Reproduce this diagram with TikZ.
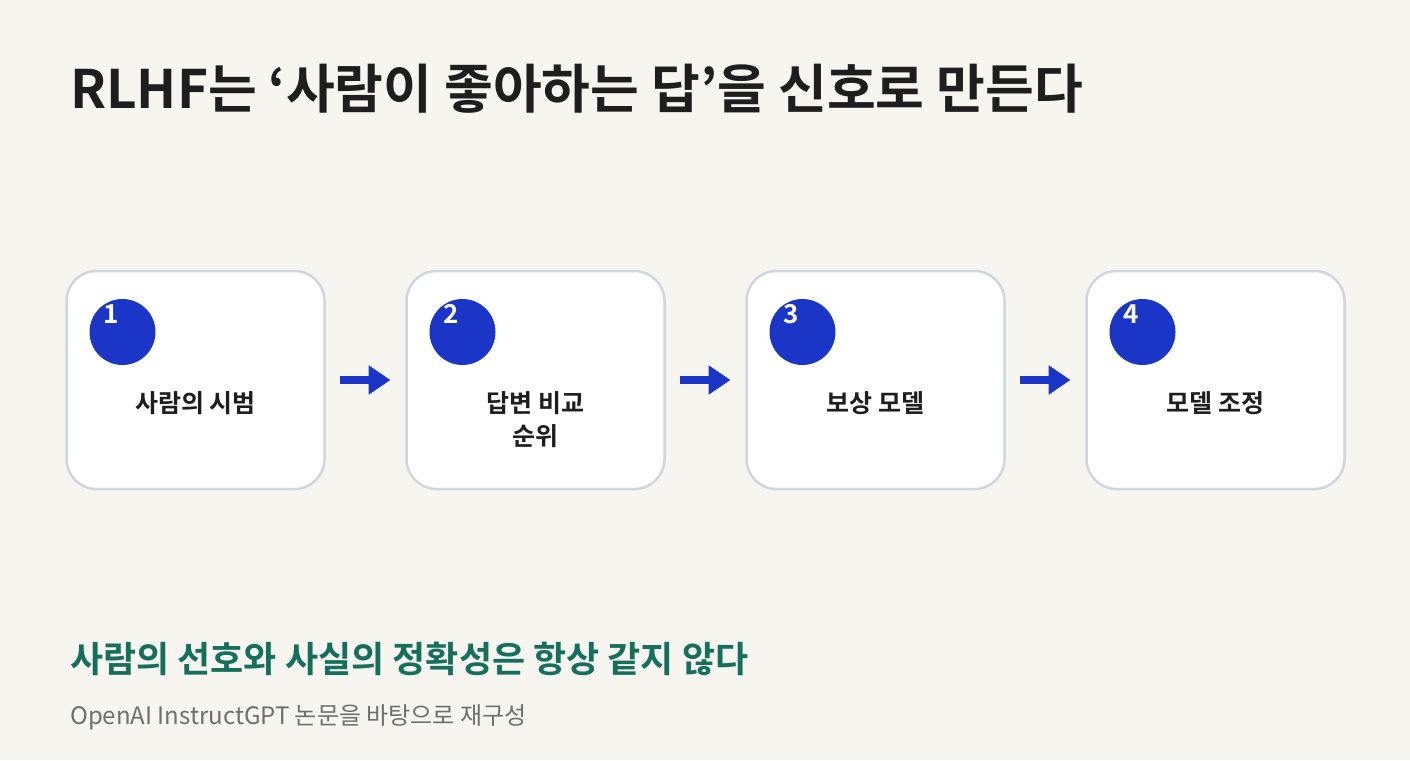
\documentclass[tikz,border=0pt]{standalone}
\usepackage{fontspec}
\setmainfont{Noto Sans CJK KR}[BoldFont={Noto Sans CJK KR Bold}]
\usetikzlibrary{positioning, arrows.meta, calc}
\definecolor{pageBg}{RGB}{246, 245, 240}
\definecolor{stepFg}{RGB}{27, 54, 199}
\definecolor{boxLine}{RGB}{208, 214, 222}
\definecolor{titleFg}{RGB}{30, 30, 30}
\definecolor{greenFg}{RGB}{22, 110, 92}
\definecolor{noteFg}{RGB}{110, 110, 110}
\tikzset{
  stage/.style = {rectangle, rounded corners=30pt, draw=boxLine, line width=2.5pt, fill=white,
    minimum width=258pt, minimum height=218pt, outer sep=0pt},
  caption/.style = {anchor=north, text=titleFg, align=center, inner sep=0pt,
    font=\fontsize{25}{33}\selectfont\bfseries},
  badge/.style = {circle, fill=stepFg, minimum size=66pt, inner sep=0pt},
  num/.style = {text=white, font=\fontsize{26}{26}\selectfont\bfseries, inner sep=0pt},
  arrow/.style = {stepFg, line width=8pt, -{Triangle[length=22pt, width=28pt]}, shorten <=15pt, shorten >=16pt},
}
\begin{document}
\begin{tikzpicture}[x=1pt, y=-1pt]
\useasboundingbox[fill=pageBg] (0,0) rectangle (1410,760);

\node (title) [anchor=base west, text=titleFg, font=\fontsize{53}{53}\selectfont\bfseries, inner sep=0pt] at (70,108) {RLHF는 ‘사람이 좋아하는 답’을 신호로 만든다};

\node (s1) [stage] at (195.5,380) {};
\node (s2) [stage] at (535.5,380) {};
\node (s3) [stage] at (875.5,380) {};
\node (s4) [stage] at (1215.5,380) {};

\node (t1) [caption] at ($(s1.north)+(0,120)$) {사람의 시범};
\node (t2) [caption] at ($(s2.north)+(0,120)$) {답변 비교\\순위};
\node (t3) [caption] at ($(s3.north)+(0,120)$) {보상 모델};
\node (t4) [caption] at ($(s4.north)+(0,120)$) {모델 조정};

\foreach \i in {1,...,4} {
  \node (b\i) [badge] at ($(s\i.north west) + (56,61)$) {};
  \node (n\i) [num] at ($(s\i.north west) + (45,43)$) {\i};
}

\draw [arrow] (s1.east) -- (s2.west);
\draw [arrow] (s2.east) -- (s3.west);
\draw [arrow] (s3.east) -- (s4.west);

\node (claim) [anchor=base west, text=greenFg, font=\fontsize{36}{36}\selectfont\bfseries, inner sep=0pt] at (70,672) {사람의 선호와 사실의 정확성은 항상 같지 않다};
\node (note) [anchor=base west, text=noteFg, font=\fontsize{24}{24}\selectfont, inner sep=0pt] at (70,724) {OpenAI InstructGPT 논문을 바탕으로 재구성};
\end{tikzpicture}
\end{document}
